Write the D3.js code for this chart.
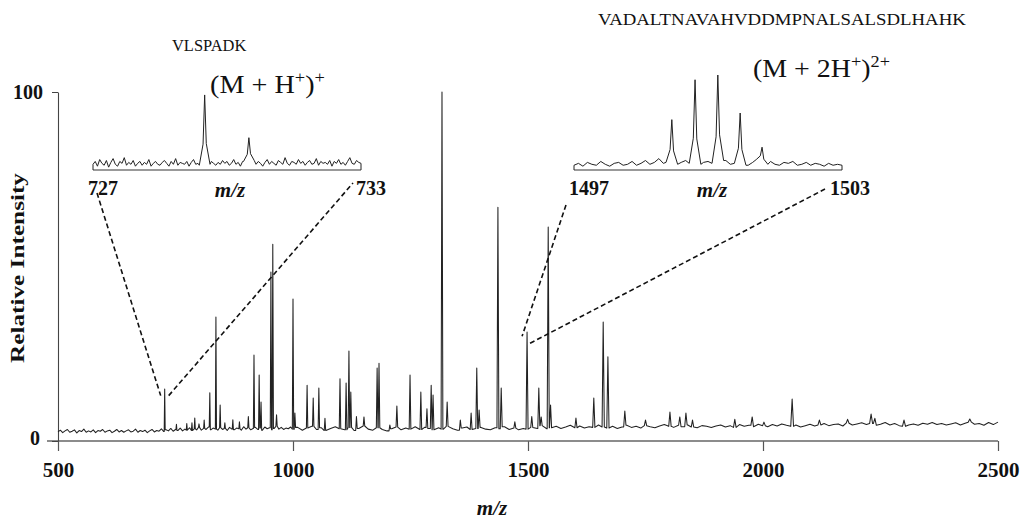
<!DOCTYPE html>
<html>
<head>
<meta charset="utf-8">
<script src="https://cdn.jsdelivr.net/npm/d3@7"></script>
<style>
  body { margin: 0; background: #fff; }
  svg { display: block; }
  text { font-family: "Liberation Serif", "Times New Roman", serif; fill: #111; }
</style>
</head>
<body>
<div id="plot"></div>
<script>
// spectrum peaks (m/z, relative intensity %)
const peakMz = [727, 752, 774, 785, 791, 800, 811, 823, 836, 845, 855, 872, 886, 905, 917, 928, 932, 953, 957, 965,
  1000, 1004, 1030, 1043, 1055, 1068, 1100, 1113, 1119, 1123, 1135, 1151, 1179, 1183, 1206, 1221, 1249, 1272, 1285, 1294,
  1298, 1317, 1328, 1356, 1379, 1391, 1396, 1436, 1443, 1472, 1498, 1508, 1523, 1528, 1543, 1548, 1602, 1640, 1660, 1670,
  1706, 1750, 1802, 1823, 1836, 1850, 1940, 1977, 2002, 2062, 2120, 2180, 2230, 2238, 2300, 2440];
const peakInt = [14.9, 4.8, 5.0, 5.2, 6.6, 4.9, 6.0, 13.8, 35.5, 10.3, 5.2, 6.1, 5.5, 7.0, 24.6, 18.9, 11.2, 48.4, 56.4, 7.5,
  40.7, 8.0, 16.0, 12.3, 15.2, 6.5, 17.8, 16.6, 25.8, 14.0, 7.0, 6.9, 20.9, 22.3, 4.6, 10.0, 18.9, 14.0, 9.2, 16.0,
  13.2, 100, 11.2, 6.0, 8.0, 20.9, 8.9, 67.0, 15.2, 5.5, 31.2, 7.0, 15.2, 6.9, 61.3, 10.3, 6.6, 12.3, 34.1, 24.1,
  8.6, 6.0, 8.3, 6.9, 8.0, 6.0, 6.2, 6.9, 5.4, 12.0, 6.0, 6.2, 7.7, 6.5, 6.0, 6.3];

// baseline noise, 500-995 every 5 m/z
const noiseLow = [
  2.6,3.1,2.4,2.9,3.3,2.5,2.8,3.2,2.3,3.0,
  2.7,3.4,2.5,2.9,2.6,3.2,2.4,3.0,2.8,3.3,
  2.5,2.9,3.1,2.4,2.8,3.3,2.6,3.0,2.5,2.9,
  3.2,2.6,2.8,3.4,2.5,3.0,2.7,3.1,2.4,2.9,
  3.3,2.6,3.0,2.8,3.5,2.7,3.2,2.9,3.6,2.8,
  3.3,3.0,3.7,2.9,3.4,3.1,3.8,3.0,3.5,3.2,
  3.9,3.1,3.6,3.3,4.0,3.2,3.7,3.4,3.1,3.8,
  3.3,3.6,3.0,3.9,3.4,3.2,3.7,3.5,3.1,4.1,
  3.4,3.8,3.2,3.6,3.9,3.3,3.7,3.1,4.0,3.5,
  3.8,3.2,3.6,4.2,3.4,3.9,3.3,3.7,3.5,4.0];
// baseline noise, 1000-2500 every 10 m/z
const noiseHigh = [
  3.4,3.9,3.1,3.7,4.2,3.3,3.8,3.0,3.6,4.1,
  3.5,3.2,3.9,3.0,3.6,4.3,3.4,3.1,3.8,3.3,
  2.9,3.5,4.0,3.2,3.7,3.4,4.1,3.3,3.9,3.6,
  3.2,3.8,3.4,4.2,3.5,3.1,3.7,4.0,3.3,3.6,
  3.9,3.4,3.2,3.8,3.5,4.1,3.3,3.7,3.2,3.6,
  3.4,3.9,3.6,4.4,3.5,3.8,4.2,3.6,4.0,4.5,
  3.8,4.3,3.7,4.1,3.9,4.6,4.0,3.7,4.2,3.6,
  4.0,4.5,3.9,4.2,3.7,4.4,4.1,3.8,4.3,4.7,
  4.2,3.9,4.5,4.1,4.6,4.0,3.8,4.4,4.2,3.9,
  4.3,4.6,4.0,4.4,3.9,4.7,4.2,4.5,4.1,4.8,
  4.4,4.1,4.7,4.3,4.9,4.5,4.2,4.6,4.0,4.4,
  4.8,4.3,4.6,5.0,4.4,4.7,4.9,4.3,5.1,4.6,
  4.9,5.2,4.7,5.0,4.5,4.8,5.3,4.6,5.0,4.4,
  4.2,4.6,4.9,4.5,5.1,4.8,5.3,4.7,5.0,4.6,
  4.9,5.2,4.6,5.1,5.4,4.8,5.0,4.5,5.3,4.7,
  5.4];

// inset 1: VLSPADK, m/z 727-733, noise every 0.05
const inset1PeakMz = [729.5, 730.49];
const inset1PeakInt = [79, 34];
const inset1Noise = [
  6,9,4,11,7,5,10,3,8,12,6,4,9,7,13,5,8,6,10,4,
  7,9,5,8,6,11,4,7,9,6,5,8,10,7,4,9,6,12,5,8,
  7,6,9,4,8,11,6,7,5,10,8,14,6,9,7,5,8,6,10,7,
  9,5,7,11,6,8,4,9,7,12,5,8,10,6,9,7,4,8,11,6,
  9,7,5,10,8,6,13,7,5,9,8,6,11,7,9,5,8,10,6,7,
  12,5,9,7,8,6,10,4,9,7,11,6,8,5,9,13,7,6,10,8,
  7];

// inset 2: VADALT..., m/z 1497-1503, noise every 0.1
const inset2PeakMz = [1499.19, 1499.71, 1500.22, 1500.72, 1501.21];
const inset2PeakInt = [53, 95, 100, 60, 24];
const inset2Noise = [
  5,7,4,8,6,5,9,6,4,7,
  8,5,6,9,5,7,10,6,8,12,
  7,8,9,6,8,10,7,9,6,8,
  9,7,6,8,10,6,7,9,6,5,
  8,11,7,6,9,6,5,8,7,9,
  5,6,8,5,7,6,4,7,5,6,
  5];

const xTicks = [500, 1000, 1500, 2000, 2500];
const yTicks = [0, 100];

const width = 1022;
const height = 519;

const svg = d3.select("#plot").append("svg")
    .attr("width", width)
    .attr("height", height);

// main scales
const x = d3.scaleLinear().domain([500, 2500]).range([58, 998]);
const y = d3.scaleLinear().domain([0, 100]).range([441, 92]);

// inset scales
const x1 = d3.scaleLinear().domain([727, 733]).range([93, 361]);
const x2 = d3.scaleLinear().domain([1497, 1503]).range([574, 842]);
const yi = d3.scaleLinear().domain([0, 100]).range([170, 75]);

// merge baseline samples with peak spikes into one sorted trace
function buildTrace(noiseMz, noiseVal, pMz, pInt, hwFn, shoulder) {
  const nearest = m => noiseVal[d3.minIndex(noiseMz, v => Math.abs(v - m))];
  const windows = pMz.map(m => [m - hwFn(m), m + hwFn(m)]);
  const pts = [];
  noiseMz.forEach((m, i) => {
    if (!windows.some(w => m >= w[0] && m <= w[1])) pts.push([m, noiseVal[i]]);
  });
  pMz.forEach((m, i) => {
    const hw = hwFn(m);
    const b0 = nearest(m - hw), b1 = nearest(m + hw), h = pInt[i];
    pts.push([m - hw, b0], [m, h], [m + hw, b1]);
    if (shoulder) {
      pts.push([m - hw * 0.3, b0 + (h - b0) * 0.3], [m + hw * 0.3, b1 + (h - b1) * 0.3]);
    }
  });
  return pts.sort((a, b) => a[0] - b[0]);
}

const mainMz = d3.range(500, 1000, 5).concat(d3.range(1000, 2501, 10));
const mainTrace = buildTrace(mainMz, noiseLow.concat(noiseHigh), peakMz, peakInt, m => m / 700, false);

const inset1Mz = inset1Noise.map((d, i) => 727 + i * 0.05);
const inset1Trace = buildTrace(inset1Mz, inset1Noise, inset1PeakMz, inset1PeakInt, () => 0.12, true);
inset1Trace.unshift([727, 0]);
inset1Trace.push([733, 0]);

const inset2Mz = inset2Noise.map((d, i) => 1497 + i * 0.1);
const inset2Trace = buildTrace(inset2Mz, inset2Noise, inset2PeakMz, inset2PeakInt, () => 0.13, true);
inset2Trace.unshift([1497, 0]);
inset2Trace.push([1503, 0]);

// ---- main axes
const xAxis = d3.axisBottom(x).tickValues(xTicks).tickSize(10).tickSizeOuter(0).tickFormat(d3.format("d"));
const gx = svg.append("g")
    .attr("transform", `translate(0,${y(0)})`)
    .call(xAxis);
gx.select(".domain").remove();
gx.selectAll(".tick line").attr("stroke", "#555").attr("stroke-width", 1.2);
gx.selectAll(".tick text")
    .attr("y", 36).attr("dy", 0)
    .style("font-family", "Liberation Serif")
    .style("font-size", "21px").style("font-weight", "bold").attr("fill", "#111");

svg.append("line")
    .attr("x1", x(500) - 11).attr("x2", x(2500))
    .attr("y1", y(0)).attr("y2", y(0))
    .attr("stroke", "#666").attr("stroke-width", 1.6);

const yAxis = d3.axisLeft(y).tickValues(yTicks).tickSize(6).tickSizeOuter(0);
const gy = svg.append("g")
    .attr("transform", `translate(${x(500)},0)`)
    .call(yAxis);
gy.select(".domain").attr("stroke", "#444").attr("stroke-width", 1.1);
gy.selectAll(".tick line").attr("stroke", "#444");
gy.selectAll(".tick text")
    .attr("x", d => d === 0 ? -18 : -15)
    .attr("y", d => d === 0 ? 3 : 6).attr("dy", 0)
    .style("font-family", "Liberation Serif")
    .style("font-size", "20px").style("font-weight", "bold").attr("fill", "#111");

// ---- main spectrum
const line = d3.line().x(d => x(d[0])).y(d => y(d[1]));
svg.append("path")
    .datum(mainTrace)
    .attr("d", line)
    .attr("fill", "none")
    .attr("stroke", "#222")
    .attr("stroke-width", 1.05)
    .attr("stroke-linejoin", "round");

// ---- insets
function drawInset(sx, trace) {
  svg.append("line")
      .attr("x1", sx.range()[0]).attr("x2", sx.range()[1])
      .attr("y1", yi(0)).attr("y2", yi(0))
      .attr("stroke", "#777").attr("stroke-width", 1.5);
  svg.append("path")
      .datum(trace)
      .attr("d", d3.line().x(d => sx(d[0])).y(d => yi(d[1])))
      .attr("fill", "none")
      .attr("stroke", "#222")
      .attr("stroke-width", 1)
      .attr("stroke-linejoin", "round");
}
drawInset(x1, inset1Trace);
drawInset(x2, inset2Trace);

function boldLabel(txt, cx, by, italic) {
  svg.append("text")
      .attr("x", cx).attr("y", by)
      .attr("text-anchor", "middle")
      .style("font-size", italic ? "21px" : "20px")
      .style("font-weight", "bold")
      .style("font-style", italic ? "italic" : "normal")
      .text(txt);
}
boldLabel("727", x1(727) + 10, 195);
boldLabel("733", x1(733) + 10, 195);
boldLabel("m/z", (x1(727) + x1(733)) / 2 + 3, 197, true);
boldLabel("1497", x2(1497) + 15, 195);
boldLabel("1503", x2(1503) + 8, 195);
boldLabel("m/z", (x2(1497) + x2(1503)) / 2 + 4, 197, true);
boldLabel("m/z", 492, 515, true);

// dashed connectors from inset labels to the peaks
const connectors = [
  [[x1(727) + 4, 193], [x(727) - 4, y(13)]],
  [[x(727) + 4, y(13)], [x1(733) - 8, 183]],
  [[x2(1497) - 8, 205], [x(1498) - 5, y(30)]],
  [[x(1498) + 3, y(28)], [x2(1503) - 17, 189]]
];
svg.append("g").selectAll("line")
    .data(connectors)
    .enter().append("line")
    .attr("x1", d => d[0][0]).attr("y1", d => d[0][1])
    .attr("x2", d => d[1][0]).attr("y2", d => d[1][1])
    .attr("stroke", "#111")
    .attr("stroke-width", 1.6)
    .attr("stroke-dasharray", "5,3");

// ---- titles, stretched horizontally to match the scan
function fitWidth(g, left, baseline, target) {
  const w = g.node().getBBox().width;
  g.attr("transform", `translate(${left},${baseline}) scale(${target / w},1)`);
}

const pep1 = svg.append("g");
pep1.append("text").style("font-size", "17px").text("VLSPADK");
fitWidth(pep1, 172, 51, 75);

const pep2 = svg.append("g");
pep2.append("text").style("font-size", "17px").text("VADALTNAVAHVDDMPNALSALSDLHAHK");
fitWidth(pep2, 598, 25, 369);

const ion1 = svg.append("g");
const t1 = ion1.append("text").style("font-size", "26px");
t1.append("tspan").text("(M + H");
t1.append("tspan").attr("dy", -10).style("font-size", "17px").text("+");
t1.append("tspan").attr("dy", 10).text(")");
t1.append("tspan").attr("dy", -10).style("font-size", "17px").text("+");
fitWidth(ion1, 210, 93, 115);

const ion2 = svg.append("g");
const t2 = ion2.append("text").style("font-size", "26px");
t2.append("tspan").text("(M + 2H");
t2.append("tspan").attr("dy", -10).style("font-size", "17px").text("+");
t2.append("tspan").attr("dy", 10).text(")");
t2.append("tspan").attr("dy", -10).style("font-size", "17px").text("2+");
fitWidth(ion2, 753, 77, 137);

// y axis title
svg.append("text")
    .attr("transform", "translate(24,268) rotate(-90)")
    .attr("text-anchor", "middle")
    .style("font-size", "19px")
    .style("font-weight", "bold")
    .attr("textLength", 190)
    .attr("lengthAdjust", "spacingAndGlyphs")
    .text("Relative Intensity");
</script>
</body>
</html>
